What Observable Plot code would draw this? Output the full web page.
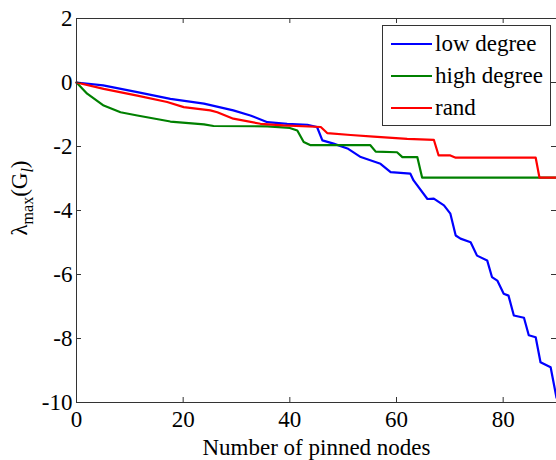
<!DOCTYPE html>
<html><head><meta charset="utf-8">
<script src="https://cdn.jsdelivr.net/npm/d3@7"></script>
<script src="https://cdn.jsdelivr.net/npm/@observablehq/plot@0.6"></script>
</head>
<body style="margin:0;background:#fff">
<div id="wrap" style="position:relative;width:556px;height:460px"></div>
<script>
const seriesNames = ["low degree", "high degree", "rand"];
const seriesColors = ["#0000ff", "#008000", "#ff0000"];

const lowX = [0, 5, 11.4, 17.6, 23.9, 29.4, 32.6, 35.8, 39.5, 43.3, 45.1, 46.1, 48.2, 50.8, 53.3, 57, 58.9, 62.6, 63.2, 65.8, 67, 68.9, 70.1, 71.1, 72, 73.9, 75.1, 77, 77.9, 78.9, 80.1, 81, 82, 83.9, 84.8, 86.1, 87, 88.9, 90];
const lowY = [0, -0.09, -0.3, -0.51, -0.66, -0.87, -1.03, -1.24, -1.29, -1.32, -1.39, -1.81, -1.91, -2.06, -2.33, -2.54, -2.8, -2.85, -3.06, -3.64, -3.63, -3.84, -4.1, -4.78, -4.88, -4.99, -5.41, -5.56, -6.08, -6.19, -6.6, -6.66, -7.28, -7.35, -7.9, -7.96, -8.74, -8.9, -9.85];

const highX = [0, 2, 5.1, 8.25, 11.4, 17.6, 23.9, 25.7, 35.8, 40, 41.4, 42.6, 43.9, 55.1, 56.1, 60.1, 61.1, 63.9, 64.8, 90];
const highY = [0, -0.35, -0.72, -0.93, -1.03, -1.22, -1.31, -1.36, -1.37, -1.42, -1.5, -1.86, -1.96, -1.96, -2.16, -2.18, -2.33, -2.33, -2.97, -2.97];

const randX = [0, 5.1, 11.4, 17, 20.1, 25.1, 26.4, 29.4, 34.5, 38.8, 45.8, 47, 51.4, 55.7, 62, 67, 67.9, 70.1, 71.1, 86.1, 86.8, 90];
const randY = [0, -0.2, -0.41, -0.61, -0.77, -0.87, -0.93, -1.13, -1.29, -1.34, -1.39, -1.58, -1.64, -1.69, -1.76, -1.79, -2.28, -2.28, -2.35, -2.35, -2.97, -2.97];

const xTicks = [0, 20, 40, 60, 80];
const yTicks = [-10, -8, -6, -4, -2, 0, 2];
const xLabel = "Number of pinned nodes";

const data = [];
[[lowX, lowY], [highX, highY], [randX, randY]].forEach(([xs, ys], i) => {
  xs.forEach((x, j) => data.push({series: seriesNames[i], x, y: ys[j]}));
});

const font = "Liberation Serif";
const W = 556, H = 460, mL = 76, mR = 0, mT = 18, mB = 58;
const fw = W - mL - mR, fh = H - mT - mB, tl = 5;
const tickStyle = {stroke: "#333", strokeWidth: 1};
const chart = Plot.plot({
  width: W, height: H,
  marginLeft: mL, marginRight: mR, marginTop: mT, marginBottom: mB,
  style: {fontFamily: font, fontSize: "23px", background: "white", color: "black", overflow: "visible"},
  x: {domain: [0, 90]},
  y: {domain: [-10, 2]},
  color: {domain: seriesNames, range: seriesColors},
  marks: [
    Plot.line(data, {x: "x", y: "y", z: "series", stroke: "series", strokeWidth: 2.2}),
    Plot.frame({stroke: "#333"}),
    Plot.ruleX(xTicks, {x: d => d, insetTop: fh - tl, ...tickStyle}),
    Plot.ruleX(xTicks, {x: d => d, insetBottom: fh - tl, ...tickStyle}),
    Plot.ruleY(yTicks, {y: d => d, insetRight: fw - tl, ...tickStyle}),
    Plot.ruleY(yTicks, {y: d => d, insetLeft: fw - tl, ...tickStyle}),
    Plot.axisX(xTicks, {anchor: "bottom", tickSize: 0, tickPadding: 8, label: null, fontSize: 23, fontFamily: font, tickFormat: d => String(d)}),
    Plot.axisY(yTicks, {anchor: "left", tickSize: 0, tickPadding: 4, label: null, fontSize: 23, fontFamily: font, tickFormat: d => String(d)}),
    Plot.text([xLabel], {text: d => d, frameAnchor: "bottom", dy: 52, fontSize: 23, fontFamily: font, fill: "black"})
  ]
});

const svg = d3.select(chart);
const yl = svg.append("text")
  .attr("transform", "translate(27,198) rotate(-90)")
  .attr("text-anchor", "middle")
  .style("font-family", font)
  .style("font-size", "23px")
  .attr("fill", "black");
yl.append("tspan").text("λ");
yl.append("tspan").style("font-size", "16px").attr("dy", 6).text("max");
yl.append("tspan").attr("dy", -6).text("(G");
yl.append("tspan").style("font-size", "16px").style("font-style", "italic").attr("dy", 6).text("l");
yl.append("tspan").attr("dy", -6).text(")");

const wrap = document.getElementById("wrap");
wrap.appendChild(chart);
const leg = document.createElement("div");
Object.assign(leg.style, {position: "absolute", left: "382px", top: "25px", width: "169px", height: "101px",
  border: "1px solid #333", background: "#fff", boxSizing: "border-box"});
seriesNames.forEach((n, i) => {
  const it = document.createElement("div");
  Object.assign(it.style, {position: "absolute", left: "8px", top: (3 + i * 32) + "px", height: "30px",
    display: "flex", alignItems: "center", fontFamily: "'Liberation Serif'", fontSize: "23px", color: "#000", whiteSpace: "nowrap"});
  const sw = document.createElement("span");
  Object.assign(sw.style, {display: "inline-block", width: "41px", height: "2px", marginRight: "3px", background: seriesColors[i]});
  it.appendChild(sw);
  it.appendChild(document.createTextNode(n));
  leg.appendChild(it);
});
wrap.appendChild(leg);
</script>
</body></html>
